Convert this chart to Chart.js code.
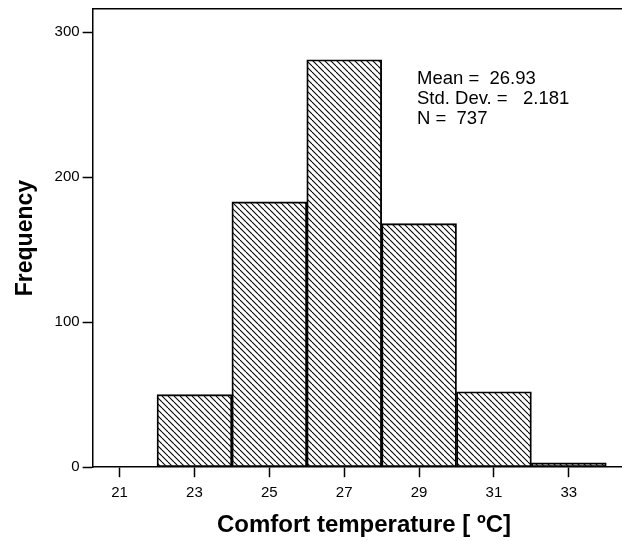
<!DOCTYPE html>
<html>
<head>
<meta charset="utf-8">
<script src="https://cdn.jsdelivr.net/npm/chart.js@4.4.1/dist/chart.umd.min.js"></script>
<style>
  html, body { margin: 0; padding: 0; background: #fff; }
  #wrap { width: 622px; height: 541px; position: relative; }
</style>
</head>
<body>
<div id="wrap"><canvas id="histChart"></canvas></div>
<script>
const ctxHist = document.getElementById('histChart');

// bin centres (each bin is 2 degrees wide) and counts
let binCenters = [23, 25, 27, 29, 31, 33];
let binCounts = [50, 183, 281, 168, 52, 3];
let xTickValues = [21, 23, 25, 27, 29, 31, 33];
let yTickValues = [0, 100, 200, 300];
let statLines = ['Mean =  26.93', 'Std. Dev. =   2.181', 'N =  737'];

const fontFam = "'Liberation Sans', Arial, Helvetica, sans-serif";

function makeHatch() {
  const c = document.createElement('canvas');
  c.width = 6;
  c.height = 6;
  const g = c.getContext('2d');
  g.strokeStyle = '#000';
  g.lineWidth = 1.1;
  for (const o of [-6, 0, 6]) {
    g.beginPath();
    g.moveTo(o, 0);
    g.lineTo(o + 6, 6);
    g.stroke();
  }
  return g.createPattern(c, 'repeat');
}

const statsText = {
  id: 'statsText',
  afterDraw(chart) {
    const g = chart.ctx;
    g.save();
    g.font = '18.5px ' + fontFam;
    g.fillStyle = '#000';
    g.textBaseline = 'alphabetic';
    statLines.forEach((t, i) => {
      g.fillText(t, 417, 84 + i * 20);
    });
    g.restore();
  }
};

const histChart = new Chart(ctxHist, {
  type: 'bar',
  data: {
    datasets: [{
      data: binCenters.map((x, i) => ({ x: x, y: binCounts[i] })),
      backgroundColor: makeHatch(),
      borderColor: '#000',
      borderWidth: 1.2,
      borderSkipped: false,
      barPercentage: 1,
      categoryPercentage: 1
    }]
  },
  options: {
    responsive: true,
    maintainAspectRatio: false,
    animation: false,
    layout: {
      padding: { left: 6, top: 0, right: 0, bottom: 1 }
    },
    plugins: {
      legend: { display: false },
      tooltip: { enabled: false }
    },
    scales: {
      x: {
        type: 'linear',
        offset: false,
        min: 20.28,
        max: 34.42,
        afterBuildTicks: (axis) => {
          axis.ticks = xTickValues.map(v => ({ value: v }));
        },
        grid: {
          offset: false,
          drawOnChartArea: false,
          drawTicks: true,
          tickLength: 10,
          tickWidth: 1.5,
          tickColor: '#000'
        },
        border: { display: true, color: '#000', width: 1.5 },
        ticks: {
          color: '#000',
          padding: 6.5,
          maxRotation: 0,
          font: { family: fontFam, size: 15 }
        },
        title: {
          display: true,
          text: '\u00a0\u00a0Comfort temperature [ ºC]',
          color: '#000',
          padding: { top: 3, bottom: 0 },
          font: { family: fontFam, size: 24, weight: 'bold' }
        }
      },
      xTop: {
        type: 'linear',
        position: 'top',
        min: 0,
        max: 1,
        grid: { drawOnChartArea: false, drawTicks: false },
        border: { display: true, color: '#000', width: 1.5 },
        ticks: { display: false }
      },
      y: {
        min: 0,
        max: 316,
        afterBuildTicks: (axis) => {
          axis.ticks = yTickValues.map(v => ({ value: v }));
        },
        grid: {
          drawOnChartArea: false,
          drawTicks: true,
          tickLength: 10,
          tickWidth: 1.5,
          tickColor: '#000'
        },
        border: { display: true, color: '#000', width: 1.5 },
        ticks: {
          color: '#000',
          padding: 3,
          font: { family: fontFam, size: 15, lineHeight: 0.8 }
        },
        title: {
          display: true,
          text: 'Frequency',
          color: '#000',
          padding: { top: 6, bottom: 12 },
          font: { family: fontFam, size: 23, weight: 'bold' }
        }
      }
    }
  },
  plugins: [statsText]
});
</script>
</body>
</html>
